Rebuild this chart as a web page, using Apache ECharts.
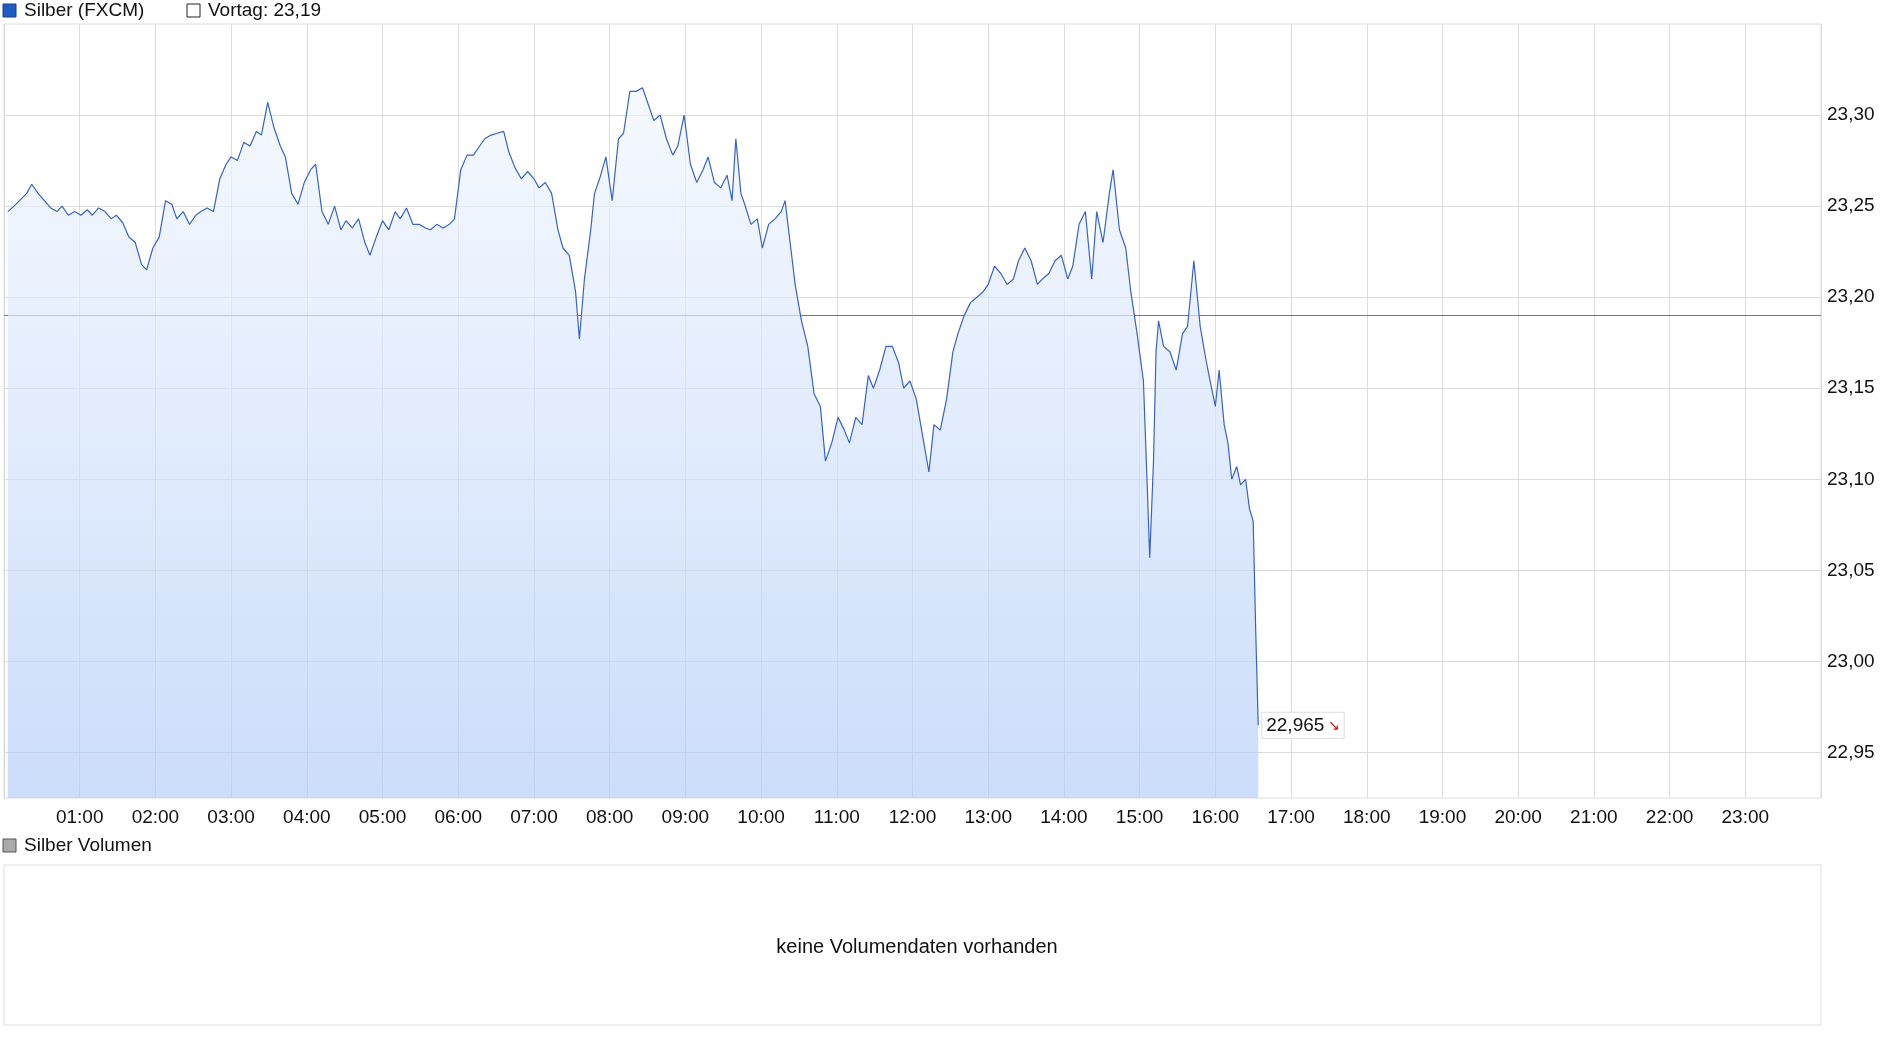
<!DOCTYPE html>
<html><head><meta charset="utf-8">
<script src="https://cdn.jsdelivr.net/npm/echarts@6/dist/echarts.min.js"></script>
<style>html,body{margin:0;padding:0;background:#fff}#c{width:1880px;height:1037px}</style>
</head><body><div id="c"></div>
<script>
const minutes = [3,8,18,22,27,32,37,42,46,51,56,61,66,70,75,80,85,89,94,99,104,109,113,118,123,128,133,137,142,147,152,156,161,166,171,176,180,185,190,195,200,204,209,214,219,223,228,233,238,243,247,252,257,262,267,271,276,281,286,290,295,300,305,310,314,319,324,329,334,338,343,348,353,357,362,367,372,377,381,386,391,396,400,405,410,415,420,424,429,434,439,443,448,453,456,460,465,468,472,477,482,487,491,496,501,506,510,515,520,525,530,534,539,544,549,554,558,563,568,573,577,580,584,587,592,597,601,606,611,616,619,623,627,632,637,642,647,651,656,661,666,670,675,680,685,689,694,699,704,709,713,718,723,728,733,737,742,747,752,756,761,766,771,776,780,785,790,795,800,804,809,814,819,823,828,833,838,843,847,852,857,862,866,871,876,879,884,889,893,898,903,906,908,911,913,915,919,924,929,934,938,943,948,953,957,960,963,967,970,973,977,980,984,987,990,992,994];
const prices = [23.247,23.250,23.257,23.262,23.257,23.253,23.249,23.247,23.250,23.245,23.247,23.245,23.248,23.245,23.249,23.247,23.243,23.245,23.241,23.233,23.230,23.218,23.215,23.227,23.233,23.253,23.251,23.243,23.247,23.240,23.245,23.247,23.249,23.247,23.265,23.273,23.277,23.275,23.285,23.283,23.291,23.289,23.307,23.293,23.283,23.277,23.257,23.251,23.263,23.270,23.273,23.247,23.240,23.250,23.237,23.242,23.238,23.243,23.230,23.223,23.233,23.242,23.237,23.247,23.243,23.249,23.240,23.240,23.238,23.237,23.240,23.238,23.240,23.243,23.270,23.278,23.278,23.283,23.287,23.289,23.290,23.291,23.280,23.271,23.265,23.269,23.265,23.260,23.263,23.257,23.237,23.227,23.223,23.203,23.177,23.210,23.237,23.257,23.265,23.277,23.253,23.287,23.290,23.313,23.313,23.315,23.307,23.297,23.300,23.287,23.278,23.283,23.300,23.273,23.263,23.270,23.277,23.263,23.260,23.267,23.253,23.287,23.257,23.251,23.240,23.243,23.227,23.240,23.243,23.247,23.253,23.230,23.207,23.187,23.173,23.147,23.140,23.110,23.120,23.134,23.127,23.120,23.134,23.130,23.157,23.150,23.160,23.173,23.173,23.164,23.150,23.154,23.144,23.124,23.104,23.130,23.127,23.144,23.170,23.180,23.190,23.197,23.200,23.203,23.207,23.217,23.213,23.207,23.210,23.220,23.227,23.220,23.207,23.210,23.213,23.220,23.223,23.210,23.217,23.240,23.247,23.210,23.247,23.230,23.257,23.270,23.237,23.227,23.203,23.180,23.154,23.097,23.057,23.110,23.170,23.187,23.173,23.170,23.160,23.180,23.184,23.220,23.184,23.164,23.150,23.140,23.160,23.130,23.120,23.100,23.107,23.097,23.100,23.084,23.077,23.017,22.965];
const prevClose = 23.19;
const lastLabel = '22,965';
const yTicks = [22.95,23.00,23.05,23.10,23.15,23.20,23.25,23.30];

const fmt = v => v.toFixed(2).replace('.', ',');
const isTick = v => yTicks.some(t => Math.abs(t - v) < 1e-6);
const chart = echarts.init(document.getElementById('c'));
const font = 'Liberation Sans, Arial, sans-serif';
chart.setOption({
  animation:false,
  textStyle:{fontFamily:font},
  grid:[
    {left:4,right:59,top:24,bottom:239,show:true,borderColor:'#dcdcdc',borderWidth:1},
    {left:4,right:59,top:865,bottom:12,show:true,borderColor:'#dcdcdc',borderWidth:1}
  ],
  title:{text:'keine Volumendaten vorhanden',left:912,top:932,textAlign:'center',
    textStyle:{fontSize:20,fontWeight:'normal',color:'#111',fontFamily:font}},
  graphic:[
    {type:'rect',shape:{x:3,y:4,width:13,height:13},style:{fill:'#1f5bc4',stroke:'#1a3f8a'}},
    {type:'text',x:24,y:1,style:{text:'Silber (FXCM)',fill:'#111',font:'19px '+font}},
    {type:'rect',shape:{x:187,y:4,width:13,height:13},style:{fill:'#fff',stroke:'#222'}},
    {type:'text',x:208,y:1,style:{text:'Vortag: 23,19',fill:'#111',font:'19px '+font}},
    {type:'rect',shape:{x:3,y:839,width:13,height:13},style:{fill:'#aaa',stroke:'#555'}},
    {type:'text',x:24,y:836,style:{text:'Silber Volumen',fill:'#111',font:'19px '+font}}
  ],
  xAxis:[
    {type:'value',gridIndex:0,min:0,max:1440,interval:60,
     axisLine:{show:false},axisTick:{show:false},
     splitLine:{lineStyle:{color:'#dcdcdc'}},
     axisLabel:{fontSize:19,color:'#111',margin:10,showMinLabel:false,showMaxLabel:false,
       formatter:v=>{const h=Math.round(v/60);return (h<10?'0':'')+h+':00';}}},
    {type:'value',gridIndex:1,min:0,max:1,show:false}
  ],
  yAxis:[
    {type:'value',gridIndex:0,position:'right',min:22.925,max:23.35,interval:0.025,
     axisLine:{show:false},axisTick:{show:false},
     splitLine:{show:false},
     axisLabel:{fontSize:19,color:'#111',margin:6,formatter:v=>isTick(v)?fmt(v):''}},
    {type:'value',gridIndex:1,show:false}
  ],
  series:[{
    type:'line',xAxisIndex:0,yAxisIndex:0,
    data:minutes.map((m,i)=>[m,prices[i]]),
    showSymbol:false,symbol:'none',
    lineStyle:{color:'#3563c9',width:1.2},
    areaStyle:{origin:'start',color:new echarts.graphic.LinearGradient(0,0,0,1,[{offset:0,color:'#f1f6fe'},{offset:1,color:'#b5cef7'}])},
    endLabel:{show:true,formatter:()=>'{a|'+lastLabel+'} {b|↘}',
      backgroundColor:'#fff',borderColor:'#ddd',borderWidth:1,padding:[4,4,2,4],distance:4,
      rich:{a:{fontSize:19,color:'#111',fontFamily:font},b:{fontSize:14,color:'#e00000'}}},
    markLine:{silent:true,symbol:'none',label:{show:false},z:1,
      data:yTicks.map(t=>({yAxis:t,lineStyle:{color:'#dcdcdc',width:1,type:'solid'}}))
        .concat([{yAxis:prevClose,lineStyle:{color:'#777',width:1,type:'solid'}}])}
  }]
});
</script></body></html>
